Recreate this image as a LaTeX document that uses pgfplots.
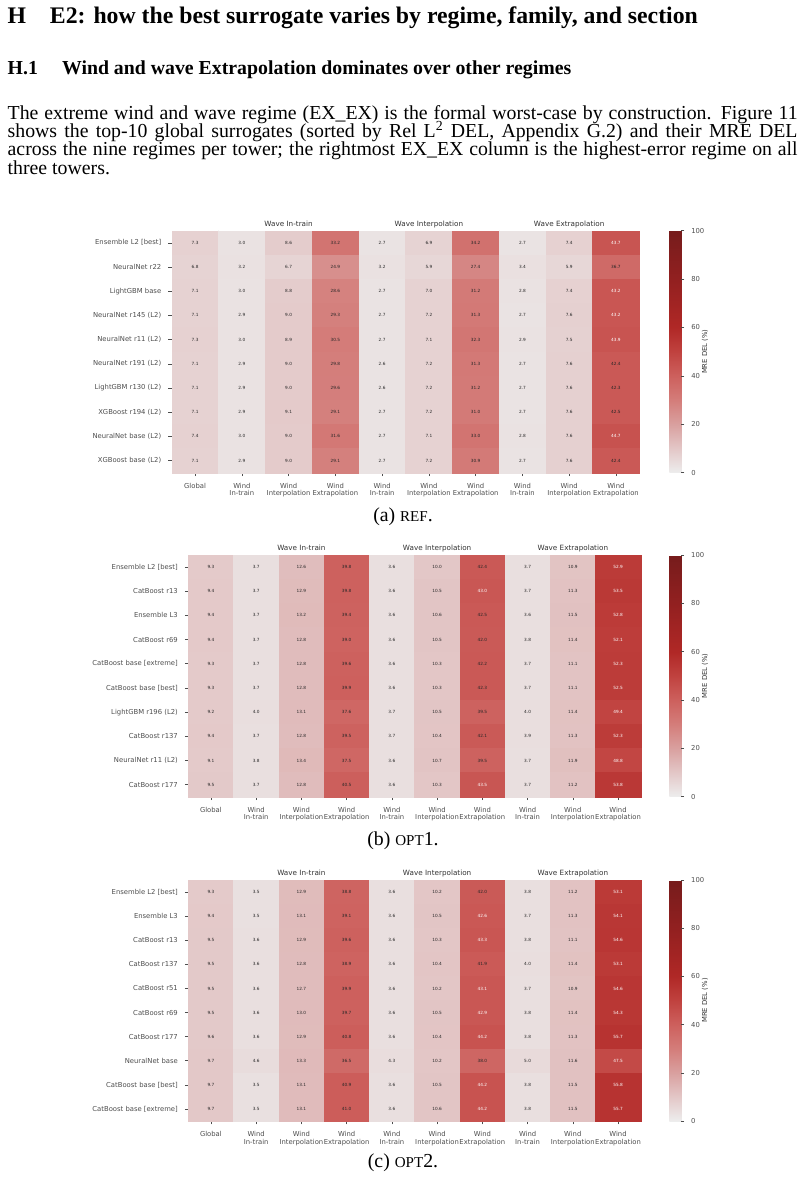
\documentclass[border=0pt]{standalone}
\usepackage{fontspec}
\setmainfont{Liberation Serif}
\newfontfamily\dejavu{DejaVu Sans}
\usepackage{pgfplots}
\usepackage{pgfplotstable}
\pgfplotsset{compat=1.18}
\pgfkeys{/pgf/number format/assume math mode=true}

\definecolor{tickgrey}{HTML}{4D4D4D}
\definecolor{labgrey}{HTML}{333333}
\definecolor{valdark}{HTML}{262626}
\definecolor{sepdark}{HTML}{3A3A3A}
\definecolor{sepgrey}{HTML}{808080}

\newcommand\tickfont{\dejavu\fontsize{3.45}{3.75}\selectfont}
\newcommand\grpfont{\dejavu\fontsize{3.65}{4}\selectfont}
\newcommand\valfont{\dejavu\fontsize{2.15}{2.4}\selectfont}

% cell label: white on the darkest cells, dark elsewhere
\newcommand\cellvalue{%
  \pgfmathfloatparsenumber{\pgfplotspointmeta}%
  \pgfmathfloattofixed{\pgfmathresult}%
  \ifdim\pgfmathresult pt>42.55pt\color{white}\else\color{valdark}\fi
  \pgfmathprintnumber[fixed,fixed zerofill,precision=1]{\pgfplotspointmeta}}

% one filled rectangle per heatmap cell (cell size of each panel)
\pgfdeclareplotmark{cellA}{\pgfpathrectangle{\pgfqpoint{-11.807pt}{-6.1105pt}}{\pgfqpoint{23.614pt}{12.221pt}}\pgfusepathqfillstroke}
\pgfdeclareplotmark{cellB}{\pgfpathrectangle{\pgfqpoint{-11.423pt}{-6.103pt}}{\pgfqpoint{22.846pt}{12.206pt}}\pgfusepathqfillstroke}
\pgfdeclareplotmark{cellC}{\pgfpathrectangle{\pgfqpoint{-11.423pt}{-6.0855pt}}{\pgfqpoint{22.846pt}{12.171pt}}\pgfusepathqfillstroke}

\tikzset{grp/.style={font=\grpfont, text=labgrey, anchor=base, yshift=2.12pt, inner sep=0pt}}

\pgfplotsset{
  colormap={mredel}{rgb255=(237,237,237) rgb255=(227,199,199) rgb255=(217,160,159)
    rgb255=(212,125,122) rgb255=(205,96,93) rgb255=(192,66,63) rgb255=(176,40,38)
    rgb255=(161,36,35) rgb255=(146,32,32) rgb255=(132,30,30) rgb255=(118,28,28)},
  heat/.style={
    scale only axis, enlargelimits=false, clip=false,
    xmin=-0.5, xmax=9.5, ymin=-0.5, ymax=9.5, y dir=reverse,
    xtick={0,...,9}, ytick={0,...,9},
    xticklabels={Global,{Wind\\In-train},{Wind\\Interpolation},{Wind\\Extrapolation},
      {Wind\\In-train},{Wind\\Interpolation},{Wind\\Extrapolation},
      {Wind\\In-train},{Wind\\Interpolation},{Wind\\Extrapolation}},
    xticklabel style={align=center, font=\tickfont, text=tickgrey},
    yticklabel style={font=\tickfont, text=tickgrey},
    axis line style={draw=none},
    tick align=outside, tick pos=left,
    major tick length=1.75pt,
    tick style={tickgrey, line width=0.3pt},
    point meta min=0, point meta max=100,
    colormap name=mredel,
    colorbar,
    colorbar shift/.style={xshift=#1},
    colorbar style={
      at={(parent axis.north east)}, anchor=north west,
      width=6.06pt,
      ytick={0,20,...,100},
      axis line style={draw=none},
      tick align=outside, tick pos=right,
      major tick length=1.5pt,
      tick style={tickgrey, line width=0.3pt},
      yticklabel style={font=\tickfont, text=tickgrey},
      ylabel={MRE DEL (\%)},
      ylabel style={font=\tickfont, text=labgrey,
        at={(axis description cs:2.97,0.5)}, anchor=center},
    },
  },
  % coloured cells
  cell/.style={
    scatter, only marks, mark=#1, point meta=explicit,
    scatter/@pre marker code/.code={%
      \pgfplotscolormapdefinemappedcolor{\pgfplotspointmetatransformed}%
      \pgfscope
      \pgfsetfillcolor{mapped color}\pgfsetstrokecolor{mapped color}%
      \pgfsetlinewidth{0.1pt}},
    scatter/@post marker code/.code={\endpgfscope},
  },
  % value printed in each cell
  cellnum/.style={
    only marks, mark=*, mark size=0pt, mark options={draw=none, fill=none},
    point meta=explicit,
    nodes near coords={\cellvalue},
    every node near coord/.append style={font=\valfont, inner sep=0pt, anchor=center},
  },
}

% MRE DEL (%) per regime column: Global, then (Wind In-train, Wind Interp., Wind Extrap.)
% for Wave In-train, Wave Interpolation and Wave Extrapolation
\pgfplotstableread{
model c0 c1 c2 c3 c4 c5 c6 c7 c8 c9
{Ensemble L2 [best]}  7.3 3.0 8.6 33.2 2.7 6.9 34.2 2.7 7.4 43.7
{NeuralNet r22}       6.8 3.2 6.7 24.9 3.2 5.9 27.4 3.4 5.9 36.7
{LightGBM base}       7.1 3.0 8.8 28.6 2.7 7.0 31.2 2.8 7.4 43.2
{NeuralNet r145 (L2)} 7.1 2.9 9.0 29.3 2.7 7.2 31.3 2.7 7.6 43.2
{NeuralNet r11 (L2)}  7.3 3.0 8.9 30.5 2.7 7.1 32.3 2.9 7.5 43.9
{NeuralNet r191 (L2)} 7.1 2.9 9.0 29.8 2.6 7.2 31.3 2.7 7.6 42.4
{LightGBM r130 (L2)}  7.1 2.9 9.0 29.6 2.6 7.2 31.2 2.7 7.6 42.3
{XGBoost r194 (L2)}   7.1 2.9 9.1 29.1 2.7 7.2 31.0 2.7 7.6 42.5
{NeuralNet base (L2)} 7.4 3.0 9.0 31.6 2.7 7.1 33.0 2.8 7.6 44.7
{XGBoost base (L2)}   7.1 2.9 9.0 29.1 2.7 7.2 30.9 2.7 7.6 42.4
}\tabRef

\pgfplotstableread{
model c0 c1 c2 c3 c4 c5 c6 c7 c8 c9
{Ensemble L2 [best]}      9.3 3.7 12.6 39.8 3.6 10.0 42.4 3.7 10.9 52.9
{CatBoost r13}            9.4 3.7 12.9 39.8 3.6 10.5 43.0 3.7 11.3 53.5
{Ensemble L3}             9.4 3.7 13.2 39.4 3.6 10.6 42.5 3.6 11.5 52.8
{CatBoost r69}            9.4 3.7 12.8 39.0 3.6 10.5 42.0 3.8 11.4 52.1
{CatBoost base [extreme]} 9.3 3.7 12.8 39.6 3.6 10.3 42.2 3.7 11.1 52.3
{CatBoost base [best]}    9.3 3.7 12.8 39.9 3.6 10.3 42.3 3.7 11.1 52.5
{LightGBM r196 (L2)}      9.2 4.0 13.1 37.6 3.7 10.5 39.5 4.0 11.4 49.4
{CatBoost r137}           9.4 3.7 12.8 39.5 3.7 10.4 42.1 3.9 11.3 52.3
{NeuralNet r11 (L2)}      9.1 3.8 13.4 37.5 3.6 10.7 39.5 3.7 11.9 48.8
{CatBoost r177}           9.5 3.7 12.8 40.5 3.6 10.3 43.5 3.7 11.2 53.8
}\tabOptA

\pgfplotstableread{
model c0 c1 c2 c3 c4 c5 c6 c7 c8 c9
{Ensemble L2 [best]}      9.3 3.5 12.9 38.8 3.6 10.2 42.0 3.8 11.2 53.1
{Ensemble L3}             9.4 3.5 13.1 39.1 3.6 10.5 42.6 3.7 11.3 54.1
{CatBoost r13}            9.5 3.6 12.9 39.6 3.6 10.3 43.3 3.8 11.1 54.6
{CatBoost r137}           9.5 3.6 12.8 38.9 3.6 10.4 41.9 4.0 11.4 53.1
{CatBoost r51}            9.5 3.6 12.7 39.9 3.6 10.2 43.1 3.7 10.9 54.6
{CatBoost r69}            9.5 3.6 13.0 39.7 3.6 10.5 42.9 3.8 11.4 54.3
{CatBoost r177}           9.6 3.6 12.9 40.8 3.6 10.4 44.2 3.8 11.3 55.7
{NeuralNet base}          9.7 4.6 13.3 36.5 4.3 10.2 38.0 5.0 11.6 47.5
{CatBoost base [best]}    9.7 3.5 13.1 40.9 3.6 10.5 44.2 3.8 11.5 55.8
{CatBoost base [extreme]} 9.7 3.5 13.1 41.0 3.6 10.6 44.2 3.8 11.5 55.7
}\tabOptB

\begin{document}
\begin{tikzpicture}[x=0.505pt, y=0.505pt]
\path[use as bounding box] (0,0) rectangle (806,-1179);

% section, subsection and paragraph
\node[anchor=base west, inner sep=0pt, font=\fontsize{12}{14}\selectfont\bfseries]
  at (7.3,-23.5) {H\hspace{1em}E2: how the best surrogate varies by regime, family, and section};
\node[anchor=base west, inner sep=0pt, font=\fontsize{10}{11}\selectfont\bfseries]
  at (7.3,-74) {H.1};
\node[anchor=base west, inner sep=0pt, font=\fontsize{10}{11}\selectfont\bfseries]
  at (61.7,-74) {Wind and wave Extrapolation dominates over other regimes};
\begin{scope}[every node/.style={anchor=base west, inner sep=0pt, font=\fontsize{10}{11}\selectfont}]
\node at (7.3,-119) {\makebox[398.9pt][s]{The extreme wind and wave regime (EX\_EX) is the formal worst-case by construction. Figure 11}};
\node at (7.3,-137.3) {\makebox[398.9pt][s]{shows the top-10 global surrogates (sorted by Rel L\textsuperscript{2} DEL, Appendix G.2) and their MRE DEL}};
\node at (7.3,-155.7) {\makebox[398.9pt][s]{across the nine regimes per tower; the rightmost EX\_EX column is the highest-error regime on all}};
\node at (7.3,-174) {three towers.};
\end{scope}

\coordinate (pa) at (171.7,-230.7);
\coordinate (pb) at (188.3,-555);
\coordinate (pc) at (188.3,-880);

% (a) reference
\begin{axis}[heat=15.15pt, at={(pa)}, anchor=north west,
  width=236.14pt, height=122.21pt,
  yticklabels from table={\tabRef}{model}]
  \pgfplotsinvokeforeach{0,...,9}{
    \addplot[cell=cellA] table[x expr=#1, y expr=\coordindex, meta=c#1] {\tabRef};
  }
  \pgfplotsinvokeforeach{0,...,9}{
    \addplot[cellnum] table[x expr=#1, y expr=\coordindex, meta=c#1] {\tabRef};
  }
  \draw[sepdark, line width=0.45pt] (axis cs:0.5,-0.5) -- (axis cs:0.5,9.5);
  \draw[sepdark, line width=0.45pt] (axis cs:3.5,-0.5) -- (axis cs:3.5,9.5);
  \draw[sepdark, line width=0.45pt] (axis cs:6.5,-0.5) -- (axis cs:6.5,9.5);
  \node[grp] at (axis cs:2,-0.5) {Wave In-train};
  \node[grp] at (axis cs:5,-0.5) {Wave Interpolation};
  \node[grp] at (axis cs:8,-0.5) {Wave Extrapolation};
\end{axis}

% (b) first optimised set
\begin{axis}[heat=14.44pt, at={(pb)}, anchor=north west,
  width=228.46pt, height=122.06pt,
  yticklabels from table={\tabOptA}{model}]
  \pgfplotsinvokeforeach{0,...,9}{
    \addplot[cell=cellB] table[x expr=#1, y expr=\coordindex, meta=c#1] {\tabOptA};
  }
  \pgfplotsinvokeforeach{0,...,9}{
    \addplot[cellnum] table[x expr=#1, y expr=\coordindex, meta=c#1] {\tabOptA};
  }
  \draw[sepgrey, line width=0.75pt] (axis cs:0.5,-0.5) -- (axis cs:0.5,9.5);
  \draw[sepgrey, line width=0.75pt] (axis cs:3.5,-0.5) -- (axis cs:3.5,9.5);
  \draw[sepgrey, line width=0.75pt] (axis cs:6.5,-0.5) -- (axis cs:6.5,9.5);
  \node[grp] at (axis cs:2,-0.5) {Wave In-train};
  \node[grp] at (axis cs:5,-0.5) {Wave Interpolation};
  \node[grp] at (axis cs:8,-0.5) {Wave Extrapolation};
\end{axis}

% (c) second optimised set
\begin{axis}[heat=14.44pt, at={(pc)}, anchor=north west,
  width=228.46pt, height=121.71pt,
  yticklabels from table={\tabOptB}{model}]
  \pgfplotsinvokeforeach{0,...,9}{
    \addplot[cell=cellC] table[x expr=#1, y expr=\coordindex, meta=c#1] {\tabOptB};
  }
  \pgfplotsinvokeforeach{0,...,9}{
    \addplot[cellnum] table[x expr=#1, y expr=\coordindex, meta=c#1] {\tabOptB};
  }
  \draw[sepgrey, line width=0.75pt] (axis cs:0.5,-0.5) -- (axis cs:0.5,9.5);
  \draw[sepgrey, line width=0.75pt] (axis cs:3.5,-0.5) -- (axis cs:3.5,9.5);
  \draw[sepgrey, line width=0.75pt] (axis cs:6.5,-0.5) -- (axis cs:6.5,9.5);
  \node[grp] at (axis cs:2,-0.5) {Wave In-train};
  \node[grp] at (axis cs:5,-0.5) {Wave Interpolation};
  \node[grp] at (axis cs:8,-0.5) {Wave Extrapolation};
\end{axis}

% sub-captions
\begin{scope}[every node/.style={anchor=base, inner sep=0pt, font=\fontsize{10}{11}\selectfont}]
\node at (403,-521) {(a) {\fontsize{7.6}{9}\selectfont REF}.};
\node at (403,-845) {(b) {\fontsize{7.6}{9}\selectfont OPT}1.};
\node at (403,-1167) {(c) {\fontsize{7.6}{9}\selectfont OPT}2.};
\end{scope}
\end{tikzpicture}
\end{document}
